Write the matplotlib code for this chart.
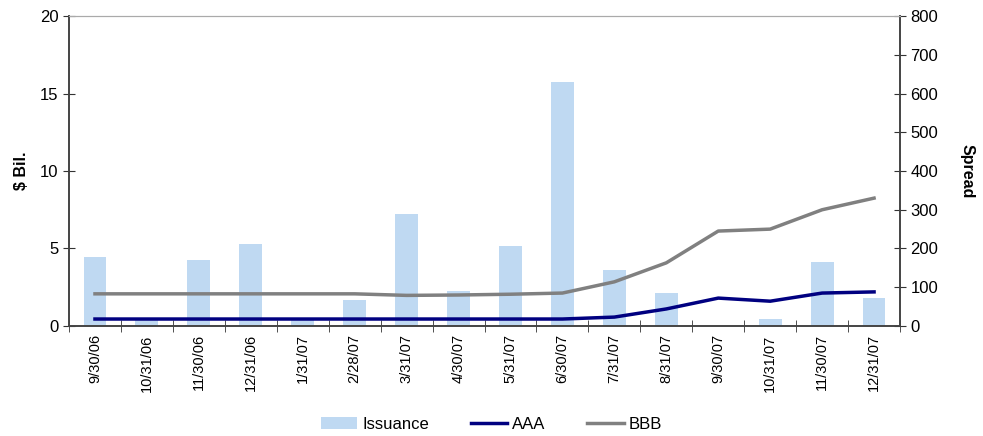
import matplotlib.pyplot as plt
import numpy as np

plt.rcParams['font.family'] = ['Liberation Sans', 'DejaVu Sans']

dates = ['9/30/06', '10/31/06', '11/30/06', '12/31/06', '1/31/07', '2/28/07',
         '3/31/07', '4/30/07', '5/31/07', '6/30/07', '7/31/07', '8/31/07',
         '9/30/07', '10/31/07', '11/30/07', '12/31/07']
issuance = [4.45, 0.5, 4.26, 5.29, 0.4, 1.68, 7.2, 2.26, 5.16, 15.74, 3.6, 2.13,
            0.0, 0.45, 4.13, 1.8]
aaa = [18, 18, 18, 18, 18, 18, 18, 18, 18, 18, 23, 44, 72, 64, 85, 88]
bbb = [83, 83, 83, 83, 83, 83, 79, 80, 82, 85, 114, 163, 245, 250, 300, 330]

x = np.arange(len(dates))

fig = plt.figure(figsize=(9.83, 4.36), dpi=100)
ax = fig.add_axes([0.0702, 0.2523, 0.8454, 0.711])
ax2 = ax.twinx()

b = ax.bar(x, issuance, width=0.44, color='#bfd9f2', label='Issuance', zorder=1)
l1, = ax2.plot(x, aaa, color='#000080', lw=2.5, label='AAA')
l2, = ax2.plot(x, bbb, color='#808080', lw=2.5, label='BBB')

ax.set_xlim(-0.5, len(dates) - 0.5)
ax.set_ylim(0, 20)
ax2.set_ylim(0, 800)
ax.set_yticks([0, 5, 10, 15, 20])
ax2.set_yticks(range(0, 801, 100))

ax.set_xticks(x)
ax.set_xticklabels(dates, rotation=90, fontsize=10.5)
ax.set_xticks(np.arange(-0.5, len(dates), 1), minor=True)
ax.tick_params(axis='x', which='major', length=0, pad=6)
ax.tick_params(axis='x', which='minor', length=8, direction='inout', color='#333333')
ax.tick_params(axis='y', length=8, direction='inout', labelsize=12, color='#333333')
ax2.tick_params(axis='y', length=8, direction='inout', labelsize=12, color='#333333')

ax.set_ylabel('$ Bil.', fontsize=11.5, fontweight='bold', labelpad=8)
ax2.set_ylabel('Spread', fontsize=11.5, fontweight='bold', rotation=270, labelpad=26)

for a in (ax, ax2):
    a.spines['top'].set_color('#aaaaaa')
    for s in ('left', 'right', 'bottom'):
        a.spines[s].set_color('#444444')
        a.spines[s].set_linewidth(1.2)

fig.legend([b, l1, l2], ['Issuance', 'AAA', 'BBB'], loc='lower center',
           bbox_to_anchor=(0.5, -0.025), ncol=3, frameon=False, fontsize=12,
           handlelength=2.2, handletextpad=0.3, columnspacing=2.5)

fig.savefig('out.png', dpi=100)
